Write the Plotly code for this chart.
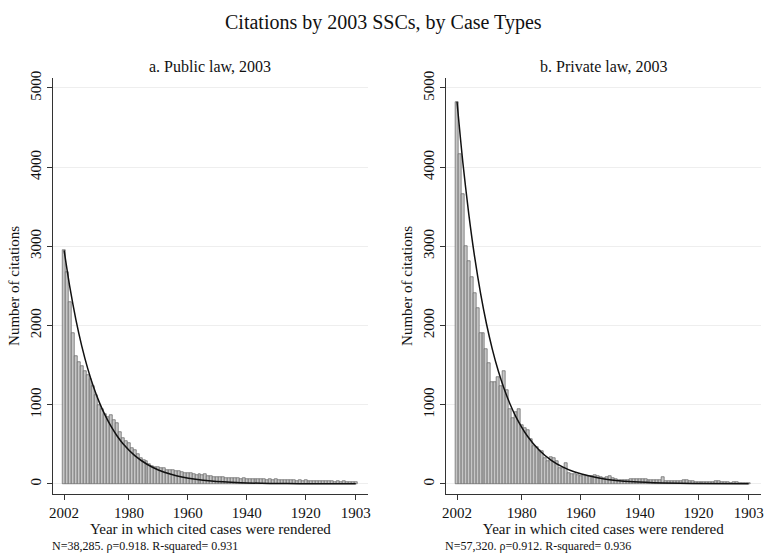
import plotly.graph_objects as go

W, H = 767, 554

years = list(range(2002, 1902, -1))  # 2002 ... 1903

public_counts = [
    2950, 2680, 2300, 1910, 1620, 1540, 1490, 1430, 1370, 1320,
    1240, 1120, 993, 940, 880, 840, 868, 806, 764, 660,
    577, 540, 515, 452, 432, 380, 328, 300, 286, 250,
    225, 215, 210, 205, 195, 180, 172, 170, 165, 160,
    150, 140, 140, 135, 120, 115, 125, 110, 118, 100,
    95, 90, 85, 92, 80, 75, 78, 72, 70, 74,
    66, 68, 62, 65, 60, 63, 58, 55, 60, 52,
    57, 50, 55, 48, 52, 45, 50, 44, 47, 40,
    43, 38, 42, 36, 40, 35, 38, 33, 36, 30,
    34, 30, 28, 32, 27, 30, 25, 28, 24, 22,
]

private_counts = [
    4826, 4160, 3660, 3000, 2810, 2615, 2415, 2220, 1910, 1900,
    1700, 1520, 1280, 1280, 1350, 1230, 1420, 1180, 950, 830,
    910, 950, 745, 705, 680, 560, 475, 460, 430, 410,
    330, 290, 340, 320, 290, 205, 195, 260, 140, 120,
    120, 105, 100, 110, 100, 100, 95, 105, 100, 80,
    75, 80, 95, 70, 55, 50, 45, 50, 45, 55,
    58, 55, 60, 62, 66, 48, 46, 45, 44, 50,
    87, 40, 37, 35, 38, 36, 40, 46, 45, 40,
    30, 25, 27, 24, 26, 25, 22, 25, 29, 30,
    20, 17, 18, 16, 20, 18, 15, 16, 14, 12,
]

# fitted curves at selected years
fit_years = [2002, 2000, 1998, 1996, 1994, 1992, 1990, 1988, 1986, 1984,
             1982, 1978, 1974, 1970, 1966, 1962, 1952, 1942, 1932, 1922, 1903]
public_fit = [2950, 2474, 2075, 1740, 1459, 1224, 1026, 861, 722, 605,
              507, 357, 251, 176, 124, 87, 36, 15, 6, 3, 1]
private_fit = [4826, 4055, 3408, 2863, 2406, 2022, 1699, 1428, 1200, 1008,
               847, 598, 422, 298, 211, 149, 62, 26, 11, 5, 1]

x_ticks = [2002, 1980, 1960, 1940, 1920, 1903]
y_ticks = [0, 1000, 2000, 3000, 4000, 5000]

title_text = "Citations by 2003 SSCs, by Case Types"
sub_a = "a. Public law, 2003"
sub_b = "b. Private law, 2003"
x_title = "Year in which cited cases were rendered"
y_title = "Number of citations"
note_a = "N=38,285. \u03c1=0.918. R-squared= 0.931"
note_b = "N=57,320. \u03c1=0.912. R-squared= 0.936"

FONT = "Liberation Serif, Times New Roman, serif"

def px_x(p):
    return p / W

def px_y(p):
    return 1 - p / H

fig = go.Figure()

bar_style = dict(marker=dict(color="#c6c6c6", line=dict(color="#626262", width=0.7)),
                 showlegend=False, width=1.0)

fig.add_trace(go.Bar(x=years, y=public_counts, xaxis="x", yaxis="y", **bar_style))
fig.add_trace(go.Scatter(x=fit_years, y=public_fit, xaxis="x", yaxis="y", mode="lines",
                         line=dict(color="#111111", width=1.5, shape="spline", smoothing=0.8),
                         showlegend=False))
fig.add_trace(go.Bar(x=years, y=private_counts, xaxis="x2", yaxis="y2", **bar_style))
fig.add_trace(go.Scatter(x=fit_years, y=private_fit, xaxis="x2", yaxis="y2", mode="lines",
                         line=dict(color="#111111", width=1.5, shape="spline", smoothing=0.8),
                         showlegend=False))

ydom = [px_y(493), px_y(72)]
left_dom = [px_x(50), px_x(368)]
right_dom = [px_x(446), px_x(764)]

xaxis_common = dict(
    range=[2005.9, 1898.8], tickmode="array", tickvals=x_ticks,
    ticktext=[str(v) for v in x_ticks], ticks="outside", ticklen=5, tickwidth=1,
    tickcolor="#333333", showline=True, linecolor="#333333", linewidth=1,
    showgrid=False, zeroline=False, tickfont=dict(family=FONT, size=15, color="#111111"),
    title=dict(text=x_title, font=dict(family=FONT, size=15, color="#111111"), standoff=2),
)
yaxis_common = dict(
    range=[-125, 5125], tickmode="array", tickvals=y_ticks,
    ticktext=[str(v) for v in y_ticks], ticks="outside", ticklen=5, tickwidth=1,
    tickcolor="#333333", showline=True, linecolor="#333333", linewidth=1,
    showgrid=True, gridcolor="#eeeeee", gridwidth=1, zeroline=False,
    tickangle=-90, tickfont=dict(family=FONT, size=15, color="#111111"),
    title=dict(text=y_title, font=dict(family=FONT, size=15, color="#111111"), standoff=4),
    domain=ydom,
)

fig.update_layout(
    width=W, height=H, margin=dict(l=0, r=0, t=0, b=0),
    paper_bgcolor="white", plot_bgcolor="white", bargap=0,
    xaxis=dict(domain=left_dom, anchor="y", **xaxis_common),
    yaxis=dict(anchor="x", **yaxis_common),
    xaxis2=dict(domain=right_dom, anchor="y2", **xaxis_common),
    yaxis2=dict(anchor="x2", **yaxis_common),
    annotations=[
        dict(text=title_text, x=0.5, y=px_y(16), xref="paper", yref="paper",
             showarrow=False, font=dict(family=FONT, size=20, color="#111111"),
             xanchor="center", yanchor="middle"),
        dict(text=sub_a, x=sum(left_dom) / 2, y=px_y(60), xref="paper", yref="paper",
             showarrow=False, font=dict(family=FONT, size=16, color="#111111"),
             xanchor="center", yanchor="middle"),
        dict(text=sub_b, x=sum(right_dom) / 2, y=px_y(60), xref="paper", yref="paper",
             showarrow=False, font=dict(family=FONT, size=16, color="#111111"),
             xanchor="center", yanchor="middle"),
        dict(text=note_a, x=px_x(47), y=px_y(546), xref="paper", yref="paper",
             showarrow=False, font=dict(family=FONT, size=12, color="#111111"),
             xanchor="left", yanchor="middle"),
        dict(text=note_b, x=px_x(443), y=px_y(546), xref="paper", yref="paper",
             showarrow=False, font=dict(family=FONT, size=12, color="#111111"),
             xanchor="left", yanchor="middle"),
    ],
)

fig.write_html("out.html")
